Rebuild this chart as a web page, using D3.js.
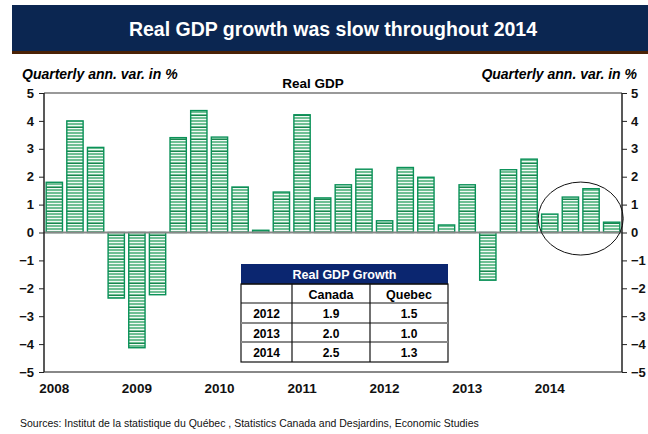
<!DOCTYPE html>
<html><head><meta charset="utf-8">
<script src="https://cdn.jsdelivr.net/npm/d3@7"></script>
<style>body{margin:0;background:#fff}svg{display:block;font-family:"Liberation Sans",Arial,sans-serif}</style>
</head><body><svg id="c" width="648" height="434"></svg>
<script>
const years = ["2008","2009","2010","2011","2012","2013","2014"];
const quarters = ["Q1","Q2","Q3","Q4"];
const gdp = [1.8,4.0,3.05,-2.35, -4.13,-2.23,3.4,4.37, 3.42,1.63,0.08,1.45, 4.22,1.24,1.71,2.27, 0.42,2.33,1.98,0.27, 1.71,-1.71,2.25,2.63, 0.66,1.27,1.57,0.37];
const yTicks = [5,4,3,2,1,0,-1,-2,-3,-4,-5];
const tableTitle = "Real GDP Growth";
const tableCols = ["", "Canada", "Quebec"];
const tableRows = [["2012","1.9","1.5"],["2013","2.0","1.0"],["2014","2.5","1.3"]];

const svg = d3.select("#c");
const periods = [];
years.forEach(y => quarters.forEach(q => periods.push(y + q)));

const L = 44, R = 622, T = 93, B = 372;
const x = d3.scaleBand().domain(periods).range([L, R]).paddingInner(0.21).paddingOuter(0.105);
const y = d3.scaleLinear().domain([-5, 5]).range([B, T]);

// stripe pattern (white lines on transparent)
const defs = svg.append("defs");
const pat = defs.append("pattern").attr("id","stripes").attr("patternUnits","userSpaceOnUse")
  .attr("x",0).attr("y",0).attr("width",8).attr("height",12);
[0,3,6,9].forEach(o => pat.append("rect").attr("x",0).attr("y",o+2).attr("width",8).attr("height",1).attr("fill","#f2faf5"));
pat.append("rect").attr("x",0).attr("y",7).attr("width",8).attr("height",1).attr("fill","#1a8550");

// title bar
svg.append("rect").attr("x",12).attr("y",5).attr("width",636).attr("height",47).attr("fill","#0b2651");
svg.append("rect").attr("x",12).attr("y",51).attr("width",636).attr("height",3).attr("fill","#4a2206");
svg.append("text").attr("x",333).attr("y",36).attr("text-anchor","middle").attr("fill","#fff")
  .attr("font-size",19.5).attr("font-weight","bold").text("Real GDP growth was slow throughout 2014");

// axis titles
svg.append("text").attr("x",22).attr("y",79).attr("font-size",14).attr("font-weight","bold").attr("font-style","italic").text("Quarterly ann. var. in %");
svg.append("text").attr("x",637).attr("y",79).attr("text-anchor","end").attr("font-size",14).attr("font-weight","bold").attr("font-style","italic").text("Quarterly ann. var. in %");
svg.append("text").attr("x",313).attr("y",88).attr("text-anchor","middle").attr("font-size",13.5).attr("font-weight","bold").text("Real GDP");

// bars: solid fill, then stripe overlay, then outline
const bars = svg.append("g");
const barX = (d,i)=>x(periods[i]);
const barY = d=>y(Math.max(0,d));
const barH = d=>Math.abs(y(d)-y(0));
bars.selectAll("rect.fill").data(gdp).join("rect").attr("class","fill")
  .attr("x",barX).attr("width",x.bandwidth()).attr("y",barY).attr("height",barH)
  .attr("fill","#6fbf94");
bars.selectAll("rect.stripe").data(gdp).join("rect").attr("class","stripe")
  .attr("x",barX).attr("width",x.bandwidth()).attr("y",barY).attr("height",barH)
  .attr("fill","url(#stripes)").attr("stroke","#0a9158").attr("stroke-width",1.4);

// frame lines
svg.append("line").attr("x1",L).attr("x2",R).attr("y1",y(5)).attr("y2",y(5)).attr("stroke","#777").attr("stroke-width",1.5);
svg.append("line").attr("x1",L).attr("x2",R).attr("y1",y(0)).attr("y2",y(0)).attr("stroke","#888").attr("stroke-width",2);
svg.append("line").attr("x1",L).attr("x2",R).attr("y1",y(-5)).attr("y2",y(-5)).attr("stroke","#888").attr("stroke-width",2);

// axes
const la = svg.append("g").attr("transform",`translate(${L},0)`)
  .call(d3.axisLeft(y).tickValues(yTicks).tickSize(5).tickPadding(5).tickFormat(d3.format("d")));
const ra = svg.append("g").attr("transform",`translate(${R},0)`)
  .call(d3.axisRight(y).tickValues(yTicks).tickSize(5).tickPadding(4).tickFormat(d3.format("d")));
[la,ra].forEach(a=>{
  a.select(".domain").attr("stroke","#222").attr("stroke-width",1.5).attr("d", `M0,${T}V${B}`);
  a.selectAll(".tick line").attr("stroke","#222");
  a.selectAll("text").attr("font-size",13).attr("font-weight","bold").attr("fill","#111")
   .style("font-family","'Liberation Sans',Arial,sans-serif");
});

// year labels
svg.append("g").selectAll("text").data(years).join("text")
  .attr("x",d=>x(d+"Q1")+x.bandwidth()/2).attr("y",393).attr("text-anchor","middle")
  .attr("font-size",13.5).attr("font-weight","bold").attr("fill","#111").text(d=>d);

// ellipse highlight
const cx = (x("2014Q1") + x("2014Q4") + x.bandwidth())/2;
svg.append("ellipse").attr("cx",cx).attr("cy",y(0.5)).attr("rx",42.5).attr("ry",36.5)
  .attr("fill","none").attr("stroke","#111").attr("stroke-width",1);

// table
const tx = [241,292,370,448];
const ty = [264,284,303,323,342,362];
const tg = svg.append("g");
tg.append("rect").attr("x",tx[0]).attr("y",ty[0]).attr("width",tx[3]-tx[0]).attr("height",ty[1]-ty[0]).attr("fill","#0b2670");
tg.append("text").attr("x",(tx[0]+tx[3])/2).attr("y",ty[0]+15).attr("text-anchor","middle").attr("fill","#fff")
  .attr("font-size",12.5).attr("font-weight","bold").text(tableTitle);
tg.append("rect").attr("x",tx[0]).attr("y",ty[1]).attr("width",tx[3]-tx[0]).attr("height",ty[5]-ty[1]).attr("fill","#fff").attr("stroke","#111").attr("stroke-width",1.2);
[[ty[1],"#111",1.2],[ty[2],"#111",1.2],[ty[3],"#888",2],[ty[4],"#888",2]].forEach(([yy,c,w])=>
  tg.append("line").attr("x1",tx[0]).attr("x2",tx[3]).attr("y1",yy).attr("y2",yy).attr("stroke",c).attr("stroke-width",w));
[tx[1],tx[2]].forEach(xx=>tg.append("line").attr("x1",xx).attr("x2",xx).attr("y1",ty[1]).attr("y2",ty[5]).attr("stroke","#111").attr("stroke-width",1.2));
tableCols.forEach((c,j)=>tg.append("text").attr("x",(tx[j]+tx[j+1])/2).attr("y",ty[1]+14.5).attr("text-anchor","middle")
  .attr("font-size",12.5).attr("font-weight","bold").text(c));
tableRows.forEach((r,i)=>r.forEach((c,j)=>tg.append("text").attr("x",(tx[j]+tx[j+1])/2).attr("y",ty[i+2]+14.5)
  .attr("text-anchor","middle").attr("font-size",12).attr("font-weight","bold").text(c)));

// footer
svg.append("text").attr("x",20).attr("y",427).attr("font-size",10.5).attr("fill","#111")
  .text("Sources: Institut de la statistique du Québec , Statistics Canada and Desjardins, Economic Studies");
</script></body></html>
